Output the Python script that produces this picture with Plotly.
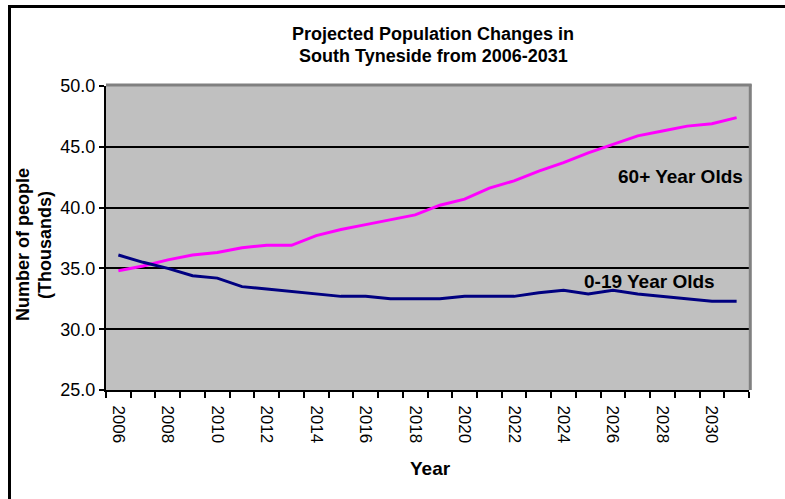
import plotly.graph_objects as go

# ---- data ----
years = list(range(2006, 2032))
age_60_plus = [34.8, 35.2, 35.7, 36.1, 36.3, 36.7, 36.9, 36.9, 37.7, 38.2,
               38.6, 39.0, 39.4, 40.2, 40.7, 41.6, 42.2, 43.0, 43.7, 44.5,
               45.2, 45.9, 46.3, 46.7, 46.9, 47.4]
age_0_19 = [36.1, 35.5, 35.0, 34.4, 34.2, 33.5, 33.3, 33.1, 32.9, 32.7,
            32.7, 32.5, 32.5, 32.5, 32.7, 32.7, 32.7, 33.0, 33.2, 32.9,
            33.2, 32.9, 32.7, 32.5, 32.3, 32.3]
series_names = ["60+ Year Olds", "0-19 Year Olds"]
tick_years = list(range(2006, 2031, 2))
title_lines = ["Projected Population Changes in", "South Tyneside from 2006-2031"]
y_title_lines = ["Number of people", "(Thousands)"]
x_title = "Year"

FONT = "Liberation Sans, Arial, sans-serif"

fig = go.Figure()
fig.add_trace(go.Scatter(x=years, y=age_60_plus, mode="lines", name=series_names[0],
                         line=dict(color="#FF00FF", width=3)))
fig.add_trace(go.Scatter(x=years, y=age_0_19, mode="lines", name=series_names[1],
                         line=dict(color="#000080", width=3)))

L, R, T, B = 106, 36, 86, 109
W, H = 785, 499
pw, ph = W - L - R, H - T - B

def px(x):
    return (x - L) / pw

def py(y):
    return (H - B - y) / ph

fig.update_layout(
    width=W, height=H,
    margin=dict(l=L, r=R, t=T, b=B, autoexpand=False),
    paper_bgcolor="white", plot_bgcolor="#C0C0C0",
    showlegend=False,
    font=dict(family=FONT, color="black"),
    xaxis=dict(
        range=[2005.5, 2031.5], tickmode="array", tickvals=tick_years,
        ticktext=[str(y) for y in tick_years], tickangle=90,
        ticks="outside", ticklen=10, tickcolor="rgba(0,0,0,0)",
        tickfont=dict(size=17, family=FONT),
        showline=True, linecolor="black", linewidth=2,
        showgrid=False, zeroline=False,
        minor=dict(tickvals=[y - 0.5 for y in years] + [years[-1] + 0.5],
                   ticks="outside", ticklen=6, tickwidth=2, tickcolor="black",
                   showgrid=False),
    ),
    yaxis=dict(
        range=[25, 50], tickmode="linear", tick0=25, dtick=5, tickformat=".1f",
        ticks="outside", ticklen=5, tickwidth=2, tickcolor="black",
        tickfont=dict(size=18, family=FONT),
        showline=True, linecolor="black", linewidth=2,
        showgrid=True, gridcolor="black", gridwidth=2, zeroline=False,
    ),
)

shapes = [
    # plot area top & right border (grey)
    dict(type="line", xref="paper", yref="paper", x0=0, x1=1.004, y0=1.003, y1=1.003,
         line=dict(color="#808080", width=3)),
    dict(type="line", xref="paper", yref="paper", x0=1.002, x1=1.002, y0=0, y1=1.006,
         line=dict(color="#808080", width=3)),
    # outer chart frame (left & top visible)
    dict(type="line", xref="paper", yref="paper", x0=px(9.5), x1=px(9.5), y0=py(H + 5), y1=py(5),
         line=dict(color="black", width=3)),
    dict(type="line", xref="paper", yref="paper", x0=px(8), x1=px(W + 5), y0=py(6.5), y1=py(6.5),
         line=dict(color="black", width=3)),
]
fig.update_layout(shapes=shapes)

ann = []
ann.append(dict(text="<b>%s</b>" % title_lines[0], x=px(433), y=py(34), xref="paper", yref="paper",
                showarrow=False, font=dict(size=18, family=FONT), xanchor="center", yanchor="middle"))
ann.append(dict(text="<b>%s</b>" % title_lines[1], x=px(433), y=py(56), xref="paper", yref="paper",
                showarrow=False, font=dict(size=18, family=FONT), xanchor="center", yanchor="middle"))
ann.append(dict(text="<b>%s</b>" % y_title_lines[0], x=px(23), y=py(245), xref="paper", yref="paper",
                showarrow=False, textangle=-90, font=dict(size=18, family=FONT),
                xanchor="center", yanchor="middle"))
ann.append(dict(text="<b>%s</b>" % y_title_lines[1], x=px(45), y=py(245), xref="paper", yref="paper",
                showarrow=False, textangle=-90, font=dict(size=18, family=FONT),
                xanchor="center", yanchor="middle"))
ann.append(dict(text="<b>%s</b>" % x_title, x=px(430), y=py(468), xref="paper", yref="paper",
                showarrow=False, font=dict(size=19, family=FONT), xanchor="center", yanchor="middle"))
ann.append(dict(text="<b>%s</b>" % series_names[0], x=px(680), y=py(176), xref="paper", yref="paper",
                showarrow=False, font=dict(size=19, family=FONT), xanchor="center", yanchor="middle"))
ann.append(dict(text="<b>%s</b>" % series_names[1], x=px(649), y=py(281), xref="paper", yref="paper",
                showarrow=False, font=dict(size=19, family=FONT), xanchor="center", yanchor="middle"))
fig.update_layout(annotations=ann)

fig.write_html("out.html")
